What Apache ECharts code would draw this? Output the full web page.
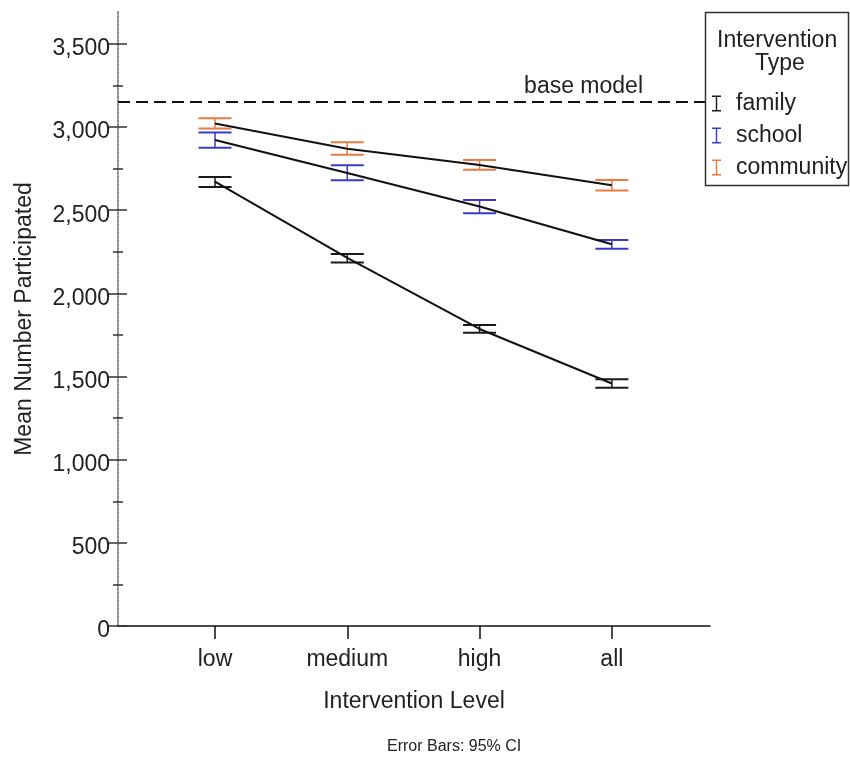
<!DOCTYPE html>
<html>
<head>
<meta charset="utf-8">
<script src="https://cdn.jsdelivr.net/npm/echarts@6/dist/echarts.min.js"></script>
<style>html,body{margin:0;padding:0;background:#fff}#c{width:850px;height:759px}</style>
</head>
<body>
<div id="c"></div>
<script>
const categories = ['low', 'medium', 'high', 'all'];
const seriesNames = ['family', 'school', 'community'];
const familyMean = [2672, 2213, 1786, 1458];
const familyLow = [2640, 2185, 1764, 1433];
const familyHigh = [2700, 2237, 1810, 1484];
const schoolMean = [2922, 2724, 2522, 2295];
const schoolLow = [2876, 2680, 2482, 2269];
const schoolHigh = [2967, 2770, 2562, 2321];
const communityMean = [3022, 2870, 2772, 2650];
const communityLow = [2991, 2833, 2743, 2618];
const communityHigh = [3053, 2909, 2802, 2682];
const baseModel = 3151;
const yTicks = [0, 500, 1000, 1500, 2000, 2500, 3000, 3500];
const yMinorTicks = [250, 750, 1250, 1750, 2250, 2750, 3250];

const FONT = 'Liberation Sans, Arial, sans-serif';
const FS = 23;
const TXT = '#222';
const colors = ['#1a1a1a', '#3a3ac8', '#e97a42'];
const means = [familyMean, schoolMean, communityMean];
const lows = [familyLow, schoolLow, communityLow];
const highs = [familyHigh, schoolHigh, communityHigh];
const YMAX = 3692;

function errRender(params, api) {
  const x = api.value(0);
  const lo = api.coord([x, api.value(1)]);
  const hi = api.coord([x, api.value(2)]);
  const hw = 16.5;
  const st = { stroke: api.visual('color'), lineWidth: 2 };
  return {
    type: 'group',
    children: [
      { type: 'line', shape: { x1: lo[0], y1: lo[1], x2: hi[0], y2: hi[1] }, style: { stroke: api.visual('color'), lineWidth: 1.5 } },
      { type: 'line', shape: { x1: lo[0] - hw, y1: lo[1], x2: lo[0] + hw, y2: lo[1] }, style: st },
      { type: 'line', shape: { x1: hi[0] - hw, y1: hi[1], x2: hi[0] + hw, y2: hi[1] }, style: st }
    ]
  };
}

const series = [];
seriesNames.forEach((name, i) => {
  series.push({
    name: name,
    type: 'custom',
    xAxisIndex: 1, yAxisIndex: 3,
    renderItem: errRender,
    itemStyle: { color: colors[i] },
    encode: { x: 0, y: [1, 2] },
    data: categories.map((c, k) => [k, lows[i][k], highs[i][k]]),
    z: 3
  });
});
seriesNames.forEach((name, i) => {
  series.push({
    name: name + '_line',
    type: 'line',
    xAxisIndex: 1, yAxisIndex: 3,
    data: means[i],
    symbol: 'none',
    lineStyle: { color: '#111', width: 2 },
    z: 4
  });
});
series.push({
  name: 'base',
  type: 'line',
  xAxisIndex: 0, yAxisIndex: 0,
  data: [],
  markLine: {
    silent: true,
    symbol: ['none', 'none'],
    lineStyle: { color: '#111', type: [12, 6], width: 2 },
    label: {
      show: true, position: 'insideEndTop', formatter: 'base model',
      fontFamily: FONT, fontSize: FS, color: TXT, offset: [-63, 0], distance: 4
    },
    data: [{ yAxis: baseModel }]
  }
});

function tickAxis(inside, values, len) {
  return {
    type: 'value', gridIndex: 0, min: 0, max: YMAX, interval: 500, position: 'left',
    axisLine: { show: false },
    axisTick: { show: true, inside: inside, length: len, customValues: values, lineStyle: { color: '#333', width: 1.5 } },
    axisLabel: { show: false },
    splitLine: { show: false }
  };
}

const chart = echarts.init(document.getElementById('c'));
chart.setOption({
  animation: false,
  backgroundColor: '#fff',
  textStyle: { fontFamily: FONT },
  grid: [
    { left: 118, right: 140, top: 12, bottom: 133 },
    { left: 148.85, right: 172, top: 12, bottom: 133 }
  ],
  xAxis: [
    {
      type: 'value', gridIndex: 0, min: 0, max: 1,
      axisLine: { show: true, lineStyle: { color: '#111', width: 1.5 } },
      axisTick: { show: false }, axisLabel: { show: false }, splitLine: { show: false },
      name: 'Intervention Level', nameLocation: 'middle', nameGap: 64,
      nameTextStyle: { fontFamily: FONT, fontSize: FS, color: TXT }
    },
    {
      type: 'category', gridIndex: 1, data: categories, boundaryGap: true,
      axisLine: { show: false },
      axisTick: { show: true, alignWithLabel: true, length: 13, lineStyle: { color: '#111', width: 1.5 } },
      axisLabel: { margin: 22, fontFamily: FONT, fontSize: FS, color: TXT }
    }
  ],
  yAxis: [
    {
      type: 'value', gridIndex: 0, min: 0, max: YMAX, interval: 500,
      axisLine: { show: true, lineStyle: { color: '#8a8a8a', type: 'dotted', width: 2 } },
      axisTick: { show: true, length: 10, customValues: yTicks, lineStyle: { color: '#333', width: 1.5 } },
      axisLabel: {
        margin: 8, fontFamily: FONT, fontSize: FS, color: TXT, customValues: yTicks,
        verticalAlign: 'top', lineHeight: 10,
        formatter: v => v.toLocaleString('en-US')
      },
      splitLine: { show: false },
      name: 'Mean Number Participated', nameLocation: 'middle', nameGap: 82,
      nameTextStyle: { fontFamily: FONT, fontSize: FS, color: TXT }
    },
    tickAxis(true, yTicks, 9),
    tickAxis(false, yMinorTicks, 5),
    {
      type: 'value', gridIndex: 1, min: 0, max: YMAX, show: false
    },
    tickAxis(true, yMinorTicks, 5)
  ],
  legend: {
    data: seriesNames,
    orient: 'vertical',
    left: 707, top: 87,
    itemWidth: 9, itemHeight: 16, itemGap: 9,
    icon: 'path://M0,0 L9,0 L9,1.5 L5.2,1.5 L5.2,14.5 L9,14.5 L9,16 L0,16 L0,14.5 L3.8,14.5 L3.8,1.5 L0,1.5 Z',
    textStyle: { fontFamily: FONT, fontSize: FS, color: TXT, padding: [0, 0, 0, 10] },
    z: 10
  },
  graphic: [
    { type: 'rect', z: 8, shape: { x: 705.5, y: 12.5, width: 143, height: 173 }, style: { fill: '#fff', stroke: '#333', lineWidth: 1.5 } },
    { type: 'text', z: 9, left: 717, top: 29, style: { text: 'Intervention', fontFamily: FONT, fontSize: FS, fill: TXT } },
    { type: 'text', z: 9, left: 755, top: 52, style: { text: 'Type', fontFamily: FONT, fontSize: FS, fill: TXT } }
  ],
  title: {
    text: 'Error Bars: 95% CI', left: 382, top: 734,
    textStyle: { fontFamily: FONT, fontSize: 16, fontWeight: 'normal', color: TXT }
  },
  series: series
});
</script>
</body>
</html>
